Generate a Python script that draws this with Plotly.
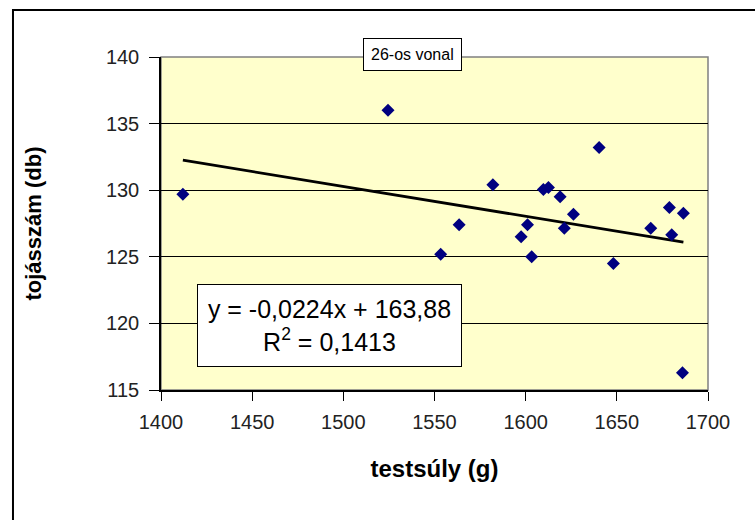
import plotly.graph_objects as go

# testsúly (g) és tojásszám (db) – 26-os vonal
testsuly = [1412, 1524.5, 1553.4, 1563.5, 1582, 1597.5, 1601, 1603.3, 1609.7, 1612.5,
            1618.9, 1621.2, 1626.2, 1640.3, 1648.1, 1668.6, 1678.8, 1680.1, 1686.5, 1686]
tojasszam = [129.7, 136.0, 125.2, 127.4, 130.4, 126.5, 127.4, 125.0, 130.05, 130.2,
             129.5, 127.15, 128.2, 133.2, 124.5, 127.15, 128.7, 126.65, 128.27, 116.3]

# lineáris trendvonal paraméterei
slope = -0.0224
intercept = 163.88
r2 = 0.1413

x_ticks = [1400, 1450, 1500, 1550, 1600, 1650, 1700]
y_ticks = [115, 120, 125, 130, 135, 140]

fmt = lambda v: f"{v}".replace(".", ",")

x0, x1 = min(testsuly), max(testsuly)
trend_x = [x0, x1]
trend_y = [slope * v + intercept for v in trend_x]

FONT = "Liberation Sans, Arial, sans-serif"

fig = go.Figure()
fig.add_trace(go.Scatter(
    x=trend_x, y=trend_y, mode="lines",
    line=dict(color="black", width=2.8), hoverinfo="skip", showlegend=False))
fig.add_trace(go.Scatter(
    x=testsuly, y=tojasszam, mode="markers",
    marker=dict(symbol="diamond", size=10, color="#000080"),
    showlegend=False))

fig.update_layout(
    width=755, height=520,
    margin=dict(l=161, r=47, t=57, b=130),
    paper_bgcolor="white", plot_bgcolor="#FFFFCC",
    font=dict(family=FONT, color="black"),
    xaxis=dict(
        range=[1400, 1700], tickvals=x_ticks, ticktext=[str(v) for v in x_ticks],
        showgrid=False, zeroline=False, showline=True, linecolor="black", linewidth=1.5,
        ticks="outside", ticklen=9, tickcolor="black", tickwidth=1,
        ticklabelstandoff=4,
        tickfont=dict(size=20, color="#222"),
        title=dict(text="<b>testsúly (g)</b>", font=dict(size=24, color="black"), standoff=28),
    ),
    yaxis=dict(
        range=[115, 140], tickvals=y_ticks, ticktext=[str(v) for v in y_ticks],
        showgrid=True, gridcolor="black", gridwidth=1, zeroline=False,
        showline=True, linecolor="black", linewidth=1.5,
        ticks="outside", ticklen=10, tickcolor="black", tickwidth=1,
        ticklabelstandoff=6,
        tickfont=dict(size=20, color="#222"),
        title=dict(text="<b>tojásszám (db)</b>", font=dict(size=22, color="black"), standoff=58),
    ),
    shapes=[
        # plot area frame (top/right in gray)
        dict(type="rect", xref="x domain", yref="y domain", x0=0, x1=1, y0=0, y1=1,
             line=dict(color="#808080", width=1.5), layer="below"),
        # chart border
        dict(type="rect", xref="paper", yref="paper", x0=-0.2706, x1=1.3, y0=-0.6, y1=1.1411,
             line=dict(color="black", width=2)),
    ],
    annotations=[
        dict(text="26-os vonal", xref="paper", yref="paper", x=0.459, y=1.009,
             xanchor="center", yanchor="middle", showarrow=False,
             font=dict(size=16, family=FONT, color="black"),
             bgcolor="white", bordercolor="black", borderwidth=1, borderpad=7),
        dict(text=f"y = {fmt(slope)}x + {fmt(intercept)}<br>R<sup>2</sup> = {fmt(r2)}",
             xref="paper", yref="paper", x=0.0658, y=0.3183,
             xanchor="left", yanchor="top", showarrow=False, align="center",
             width=255, height=73,
             font=dict(size=25, family=FONT, color="black"),
             bgcolor="white", bordercolor="black", borderwidth=1, borderpad=4),
    ],
)

fig.write_html("out.html")
